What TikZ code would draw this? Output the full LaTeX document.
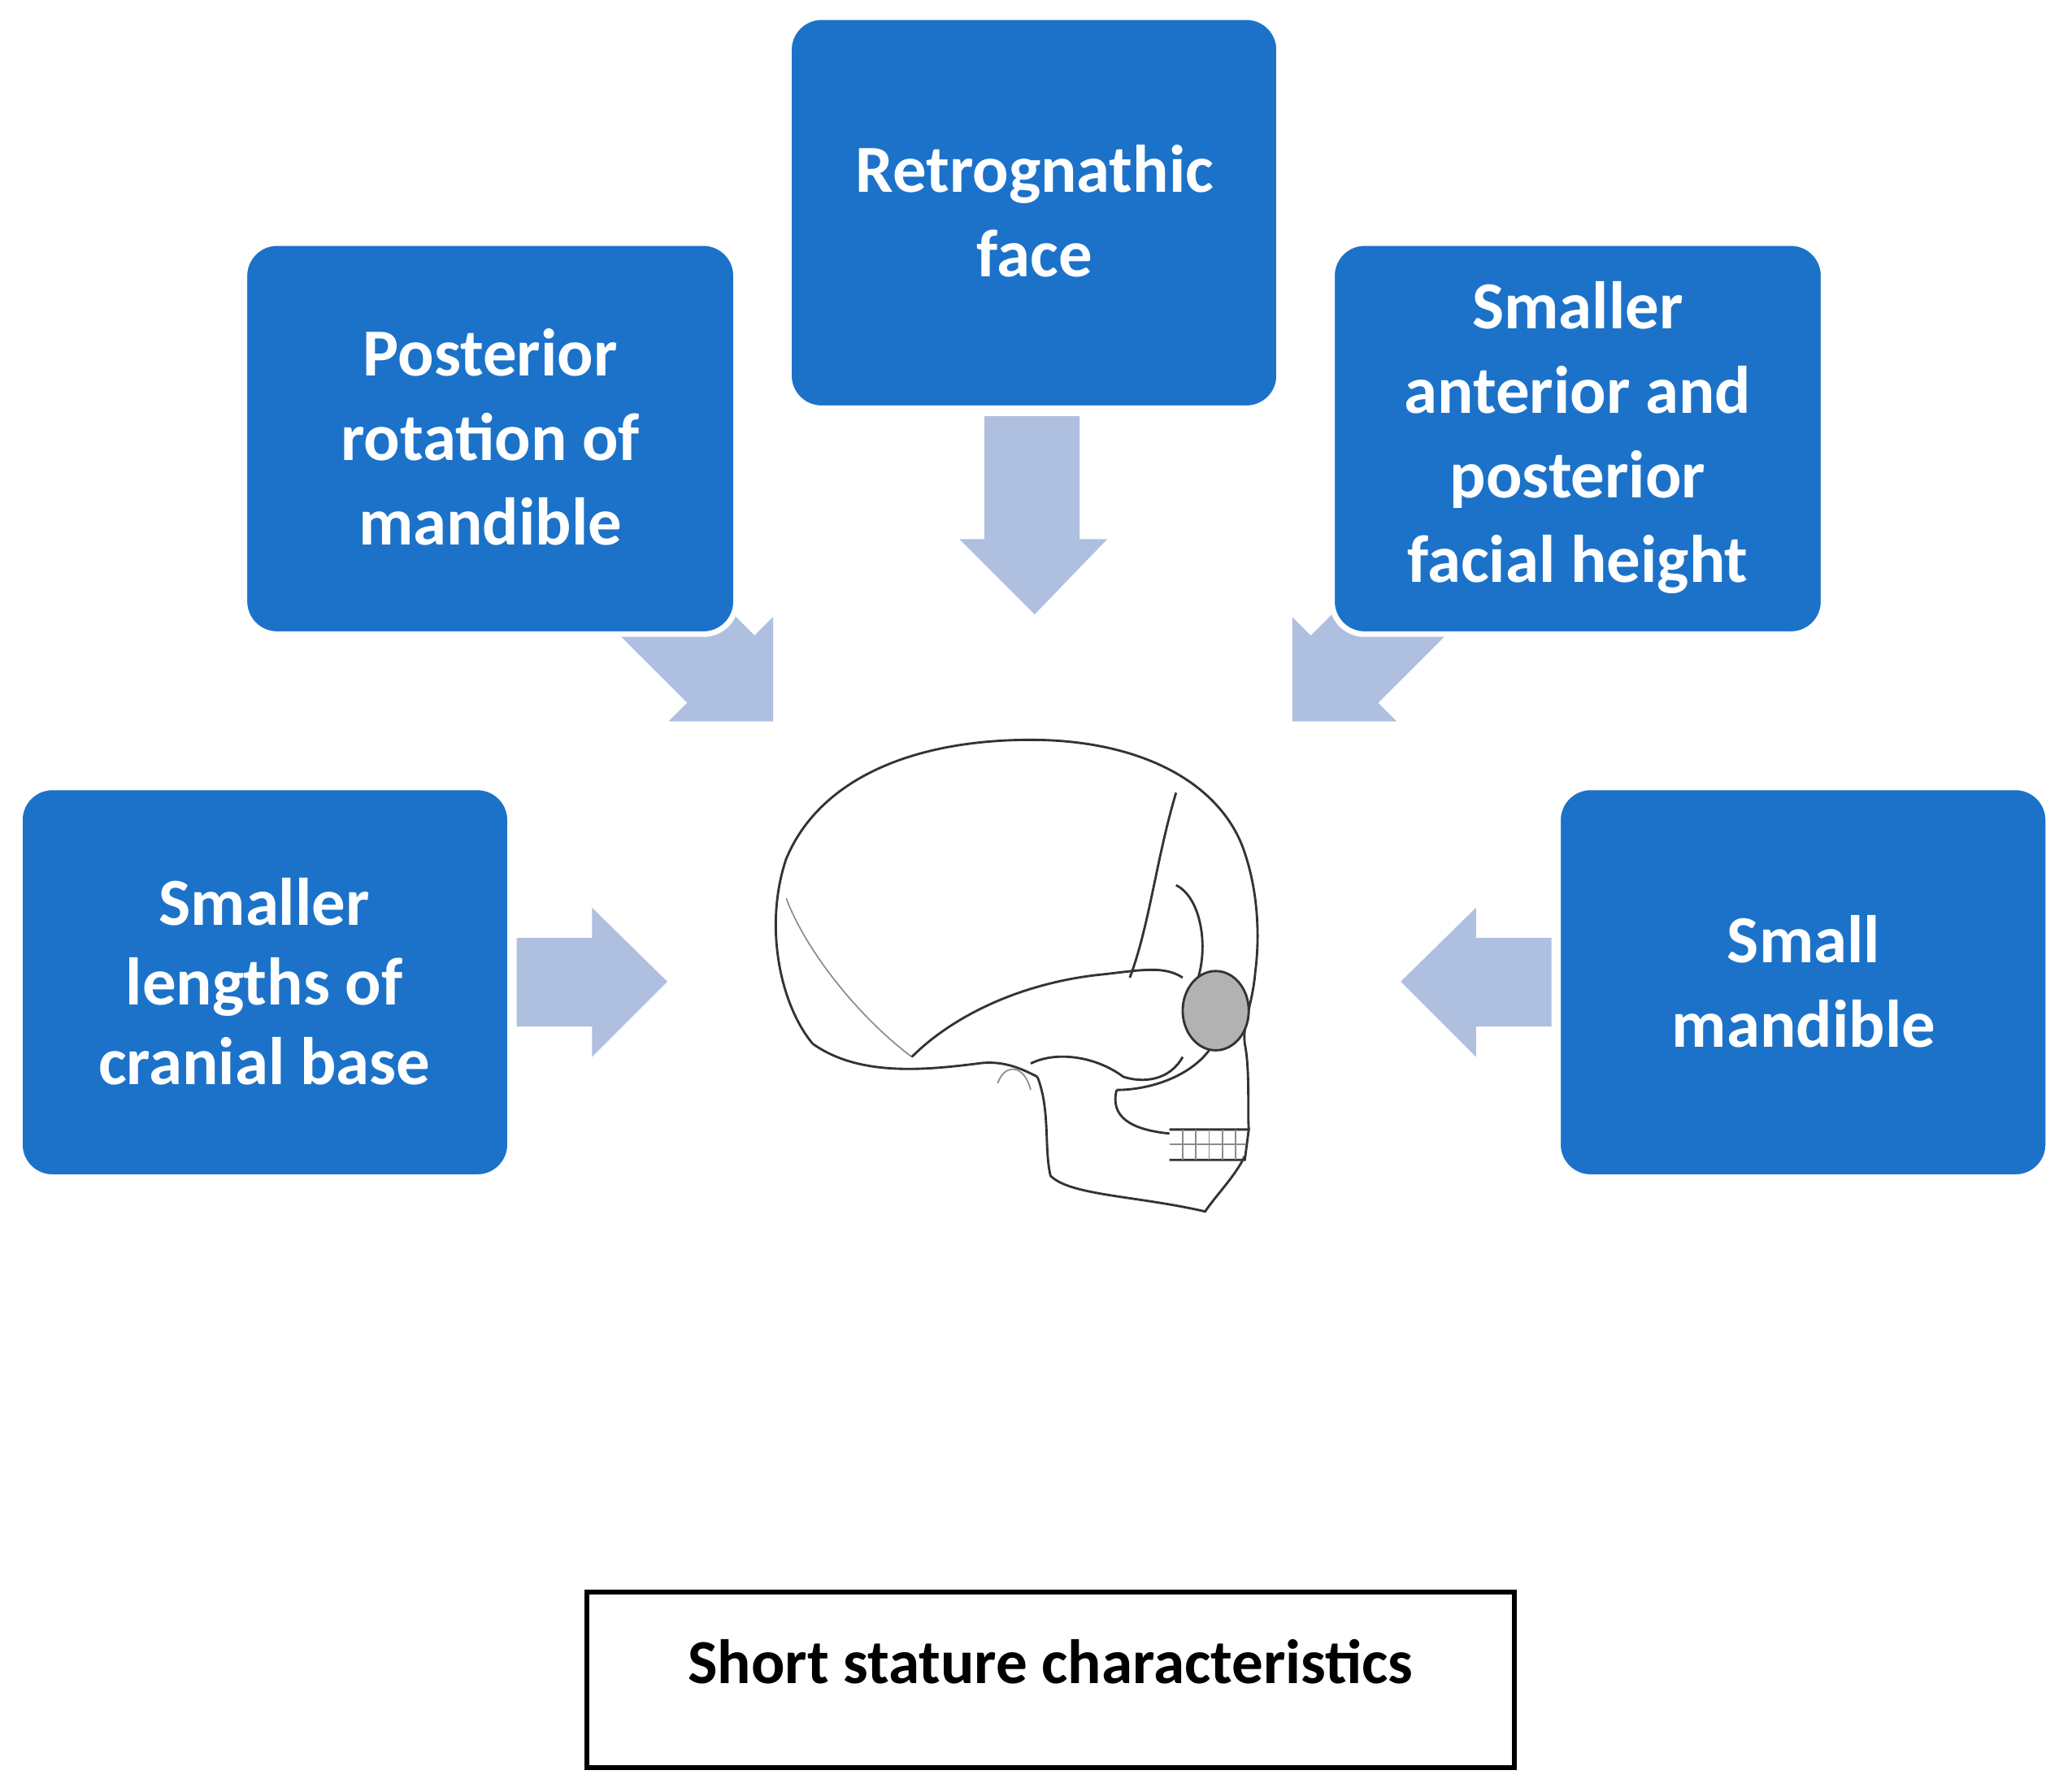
\documentclass[tikz,border=0pt]{standalone}
\usepackage{fontspec}
\setmainfont{Carlito}
\begin{document}
\begin{tikzpicture}[x=0.1mm,y=-0.1mm,
 box/.style={fill=boxblue,draw=white,line width=1.2pt,rounded corners=7pt,minimum width=372\pgflinewidth,align=center,text=white,font=\bfseries\fontsize{14.5}{18.2}\selectfont,inner sep=0pt},
 arr/.style={fill=arrblue,draw=none},
 sk/.style={draw=black!80,line width=0.5pt},
 skl/.style={draw=black!45,line width=0.3pt}]
\definecolor{boxblue}{HTML}{1C72C8}
\definecolor{arrblue}{HTML}{AEBFE0}
\useasboundingbox (0,0) rectangle (1568,1356);
% arrows
\fill[arr] (745,315) -- (817,315) -- (817,408) -- (838,408) -- (783,465) -- (726,408) -- (745,408) -- cycle;
\fill[arr] (391,710) -- (448,710) -- (448,687) -- (505,743) -- (448,800) -- (448,777) -- (391,777) -- cycle;
\fill[arr] (1174,710) -- (1117,710) -- (1117,687) -- (1060,743) -- (1117,800) -- (1117,777) -- (1174,777) -- cycle;
\fill[arr] (585,546) -- (506,546) -- (520,532) -- (440,452) -- (491,401) -- (571,481) -- (585,467) -- cycle;
\fill[arr] (978,546) -- (1057,546) -- (1043,532) -- (1123,452) -- (1072,401) -- (992,481) -- (978,467) -- cycle;
% boxes
\path[box] (597,13) rectangle (968,309);
\node[text=white,align=center,font=\bfseries\fontsize{14.5}{18.2}\selectfont] (t1) at (783,160) {Retrognathic\\face};
\path[box] (185,184) rectangle (557,480);
\node[text=white,align=center,font=\bfseries\fontsize{14.5}{18.2}\selectfont] (t2) at (371,331) {Posterior\\rotation of\\mandible};
\path[box] (1008,184) rectangle (1380,480);
\node[text=white,align=center,font=\bfseries\fontsize{14.5}{18.2}\selectfont] (t3) at (1194,331) {Smaller\\anterior and\\posterior\\facial height};
\path[box] (15,596) rectangle (386,891);
\node[text=white,align=center,font=\bfseries\fontsize{14.5}{17.1}\selectfont] (t4) at (200,743) {Smaller\\lengths of\\cranial base};
\path[box] (1179,596) rectangle (1550,891);
\node[text=white,align=center,font=\bfseries\fontsize{14.5}{18.2}\selectfont] (t5) at (1365,743) {Small\\mandible};
% skull
\draw[sk] (615,790) .. controls (590,760) and (578,700) .. (595,650) .. controls (620,590) and (690,560) .. (780,560) .. controls (860,560) and (920,590) .. (940,640) .. controls (955,680) and (952,720) .. (950,735) .. controls (948,760) and (940,775) .. (942,790) .. controls (946,810) and (944,840) .. (945,855);
\draw[sk] (615,790) .. controls (650,815) and (700,810) .. (740,805) .. controls (760,802) and (775,810) .. (785,815);
\draw[sk] (785,815) .. controls (795,840) and (790,870) .. (795,890) .. controls (810,905) and (860,905) .. (912,917) .. controls (920,905) and (935,890) .. (942,875);
\draw[sk] (885,855) -- (945,855) -- (942,878) -- (885,878);
\foreach \x in {895,905,915,925,935} \draw[skl] (\x,855) -- (\x,878);
\draw[skl] (885,866) -- (943,866);
\draw[sk] (845,825) .. controls (840,845) and (855,855) .. (885,858);
\draw[sk] (845,825) .. controls (870,825) and (900,815) .. (915,795);
\draw[sk] (890,600) .. controls (875,650) and (870,700) .. (855,740);
\draw[sk] (890,670) .. controls (910,680) and (915,720) .. (905,745);
\draw[skl] (595,680) .. controls (610,720) and (650,770) .. (690,800);
\draw[sk] (690,800) .. controls (720,770) and (770,745) .. (830,738) .. controls (860,735) and (880,730) .. (895,740);
\draw[sk] (780,805) .. controls (800,795) and (830,800) .. (850,815) .. controls (865,820) and (885,818) .. (895,800);
\draw[skl] (755,820) .. controls (760,805) and (775,805) .. (780,825);
\fill[black!30] (920,765) ellipse (25 and 30);
\draw[sk] (920,765) ellipse (25 and 30);
% label
\draw[line width=1.1pt] (444,1205) rectangle (1146,1338);
\node[font=\bfseries\fontsize{13.5}{16}\selectfont] (lab) at (795,1258) {Short stature characteristics};
\end{tikzpicture}
\end{document}
